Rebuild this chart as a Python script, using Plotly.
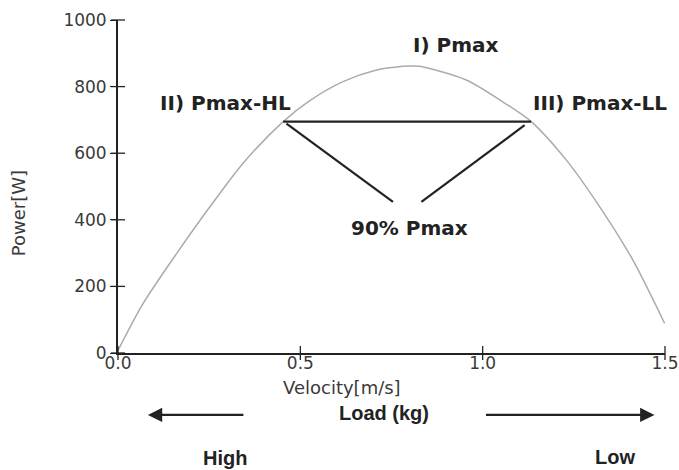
import plotly.graph_objects as go

# ---- data ----
velocity = [0.0, 0.069, 0.161, 0.252, 0.343, 0.453, 0.526, 0.617, 0.709, 0.782, 0.80,
            0.827, 0.955, 1.047, 1.133, 1.229, 1.321, 1.412, 1.499]
power = [8, 149, 299, 439, 570, 695, 758, 815, 850, 861, 862,
         861, 820, 760, 695, 580, 439, 279, 89]

p90_x = [0.453, 1.133]
p90_y = [695, 695]
diag_left_x = [0.462, 0.754]
diag_left_y = [689, 454]
diag_right_x = [1.115, 0.832]
diag_right_y = [684, 454]

x_ticks = [0.0, 0.5, 1.0, 1.5]
x_tick_text = ["0.0", "0.5", "1.0", "1.5"]
y_ticks = [0, 200, 400, 600, 800, 1000]

labels_text = ["I) Pmax", "II) Pmax-HL", "III) Pmax-LL", "90% Pmax"]
labels_x = [0.927, 0.295, 1.323, 0.80]
labels_y = [925, 751, 751, 375]

load_text = ["Load (kg)", "High", "Low"]
load_x = [0.729, 0.293, 1.362]
load_y = [-180, -316, -311]          # in power units below the axis

arrow_head_x = [0.082, 1.471]
arrow_tail_x = [0.348, 1.005]
arrow_y = -186

x_title = "Velocity[m/s]"
x_title_pos = (0.614, -104)
y_title = "Power[W]"
y_title_pos = (-0.274, 420)

Y_MAX = 1000
X_MAX = 1.5

fig = go.Figure()
fig.add_trace(go.Scatter(x=velocity, y=power, mode="lines",
                         line=dict(color="#ababab", width=1.5, shape="spline", smoothing=0.8),
                         hoverinfo="skip", showlegend=False))
for xs, ys in [(p90_x, p90_y), (diag_left_x, diag_left_y), (diag_right_x, diag_right_y)]:
    fig.add_trace(go.Scatter(x=xs, y=ys, mode="lines", line=dict(color="#222222", width=2.2),
                             hoverinfo="skip", showlegend=False))

# crossing tick marks (drawn across the axis lines at the tick values)
tick_mark = dict(size=10, color="#222", line=dict(width=1.3, color="#222"))
fig.add_trace(go.Scatter(x=x_ticks, y=[0] * len(x_ticks), mode="markers", cliponaxis=False,
                         marker=dict(symbol="line-ns", **tick_mark), hoverinfo="skip", showlegend=False))
fig.add_trace(go.Scatter(x=[0] * len(y_ticks), y=y_ticks, mode="markers", cliponaxis=False,
                         marker=dict(symbol="line-ew", **tick_mark), hoverinfo="skip", showlegend=False))

label_font = dict(family="DejaVu Sans", size=20, color="#222222")
bottom_font = dict(family="Liberation Sans", size=20, color="#222222")
tick_font = dict(family="DejaVu Sans", size=17, color="#3a3a3a")
title_font = dict(family="DejaVu Sans", size=18, color="#3a3a3a")

for t, x, y in zip(labels_text, labels_x, labels_y):
    fig.add_annotation(x=x, y=y, text="<b>%s</b>" % t, showarrow=False, font=label_font)
for t, x, y in zip(load_text, load_x, load_y):
    fig.add_annotation(x=x, y=y / Y_MAX, xref="x", yref="paper", yanchor="middle", xanchor="center",
                       text="<b>%s</b>" % t, showarrow=False, font=bottom_font)
for hx, tx in zip(arrow_head_x, arrow_tail_x):
    fig.add_annotation(x=hx, y=arrow_y / Y_MAX, xref="x", yref="paper", ax=tx, ay=0,
                       axref="x", ayref="pixel", text="",
                       showarrow=True, arrowhead=2, arrowsize=1.3, arrowwidth=2.2, arrowcolor="#222222")

# axis titles
fig.add_annotation(x=x_title_pos[0], y=x_title_pos[1] / Y_MAX, xref="x", yref="paper",
                   xanchor="center", yanchor="middle", text=x_title, showarrow=False, font=title_font)
fig.add_annotation(x=y_title_pos[0] / X_MAX, y=y_title_pos[1] / Y_MAX, xref="paper", yref="paper",
                   xanchor="center", yanchor="middle", textangle=-90, text=y_title, showarrow=False,
                   font=title_font)

fig.update_layout(
    width=679, height=470,
    margin=dict(l=118, r=14, t=20, b=117),
    paper_bgcolor="white", plot_bgcolor="white",
    showlegend=False,
    xaxis=dict(range=[0, X_MAX], tickvals=x_ticks, ticktext=x_tick_text, ticks="",
               showline=True, linecolor="#222", linewidth=1.8,
               showgrid=False, zeroline=False, tickfont=tick_font, automargin=False,
               ticklabeloverflow="allow", ticklabelstandoff=-6),
    yaxis=dict(range=[0, Y_MAX], tickvals=y_ticks, ticks="outside", ticklen=6, tickwidth=1.3,
               tickcolor="#222", showline=True, linecolor="#222", linewidth=1.8,
               showgrid=False, zeroline=False, tickfont=tick_font, automargin=False),
)
# remove the browser's default page margin so the figure fills the window exactly
fig.write_html("out.html", config={"displayModeBar": False},
               post_script="document.body.style.margin='0';")
